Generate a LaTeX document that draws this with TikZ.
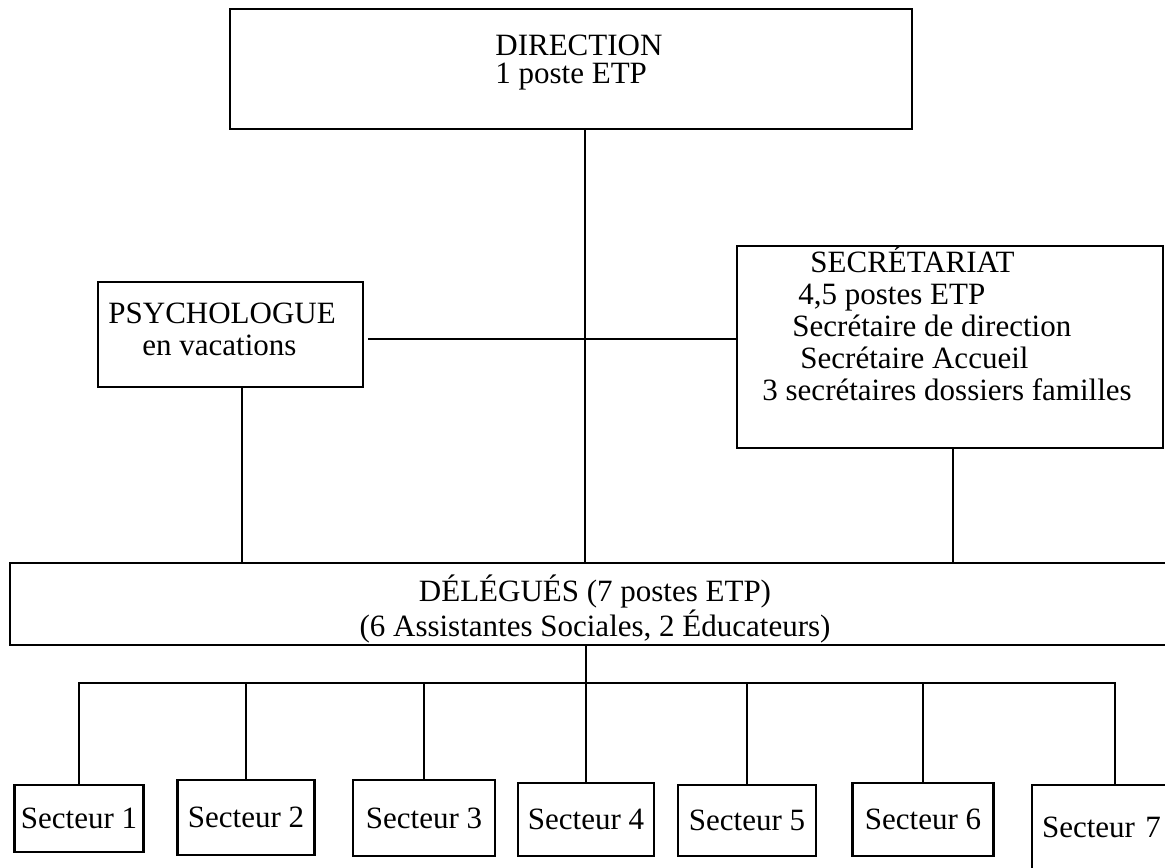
\documentclass[tikz,border=0pt]{standalone}
\usepackage{fontspec}
\setmainfont{Liberation Serif}
\tikzstyle{boite} = [rectangle, draw=black, line width=1.2pt, inner sep=0pt]
\tikzstyle{texte} = [inner sep=0pt, anchor=base west]
\tikzstyle{serre} = [execute at begin node={\def\arraystretch{0.88}}]
\tikzstyle{secteur} = [boite, inner xsep=3pt]
\tikzstyle{ligne} = [line width=1pt]

\begin{document}
\begin{tikzpicture}[x=0.5pt, y=-0.5pt, font=\fontsize{15.5}{16}\selectfont]
    \useasboundingbox (0,0) rectangle (1165,867);
    % cadres du haut
    \node (dir) [boite, minimum width=341pt, minimum height=60pt] at (571,69) {};
    \node (dirtxt) [texte, serre] at (495,55) {\begin{tabular}[t]{@{}l@{}}DIRECTION\\1 poste ETP\end{tabular}};
    \node (psy) [boite, minimum width=132.5pt, minimum height=52.5pt] at (230.5,334.5) {};
    \node (psytxt) [texte] at (108,323) {\begin{tabular}[t]{@{}l@{}}PSYCHOLOGUE\\\hspace{17pt}en vacations\end{tabular}};
    \node (secr) [boite, minimum width=213pt, minimum height=101pt] at (950,347) {};
    \node (secrtxt) [texte] at (762,272) {\begin{tabular}[t]{@{}l@{}}\hspace{24pt}SECRÉTARIAT\\\hspace{18pt}4,5 postes ETP\\\hspace{15pt}Secrétaire de direction\\\hspace{19pt}Secrétaire Accueil\\3 secrétaires dossiers familles\end{tabular}};
    \node (deleg) [boite, minimum width=585pt, minimum height=41pt] at (595,604) {};
    \node (delegtxt) [texte, serre, anchor=base] at (595,601) {\begin{tabular}[t]{@{}c@{}}DÉLÉGUÉS (7 postes ETP)\\(6 Assistantes Sociales, 2 Éducateurs)\end{tabular}};

    % secteurs
    \node (s1) [secteur, minimum width=64.5pt, minimum height=33.5pt] at (79,818.5) {Secteur 1};
    \node (s2) [secteur, minimum width=68.5pt, minimum height=37.5pt] at (246,817.5) {Secteur 2};
    \node (s3) [secteur, minimum width=71pt, minimum height=38pt] at (424,818) {Secteur 3};
    \node (s4) [secteur, minimum width=68pt, minimum height=36.5pt] at (586,819.5) {Secteur 4};
    \node (s5) [secteur, minimum width=69pt, minimum height=35.5pt] at (747,820.5) {Secteur 5};
    \node (s6) [secteur, minimum width=70.5pt, minimum height=36.5pt] at (923,819.5) {Secteur 6};
    \node (s7) [secteur, inner xsep=5pt, text width=73pt, align=left, minimum height=42.5pt] at (1115,827.5) {Secteur 7};

    \coordinate (dirbas) at ([xshift=7pt]dir.south);
    \coordinate (psybas) at ([xshift=5.75pt]psy.south);
    \coordinate (secrbas) at ([xshift=1.5pt]secr.south);
    \coordinate (psydroite) at ([yshift=-2.25pt]psy.east);
    \coordinate (bus) at ([xshift=-4.5pt, yshift=-18.5pt]deleg.south);

    \draw [ligne] (dirbas) -- (dirbas |- deleg.north);
    \draw [ligne, shorten <=2pt] (psydroite) -- (psydroite -| secr.west);
    \draw [ligne] (psybas) -- (psybas |- deleg.north);
    \draw [ligne] (secrbas) -- (secrbas |- deleg.north);
    \draw [ligne] (deleg.south -| bus) -- (bus);
    \draw [ligne] (s1.north) |- (bus) -| (s7.north); % barre des secteurs
    \draw [ligne] (s2.north) -- (s2.north |- bus);
    \draw [ligne] (s3.north) -- (s3.north |- bus);
    \draw [ligne] (s4.north) -- (s4.north |- bus);
    \draw [ligne] (s5.north) -- (s5.north |- bus);
    \draw [ligne] (s6.north) -- (s6.north |- bus);
\end{tikzpicture}
\end{document}
